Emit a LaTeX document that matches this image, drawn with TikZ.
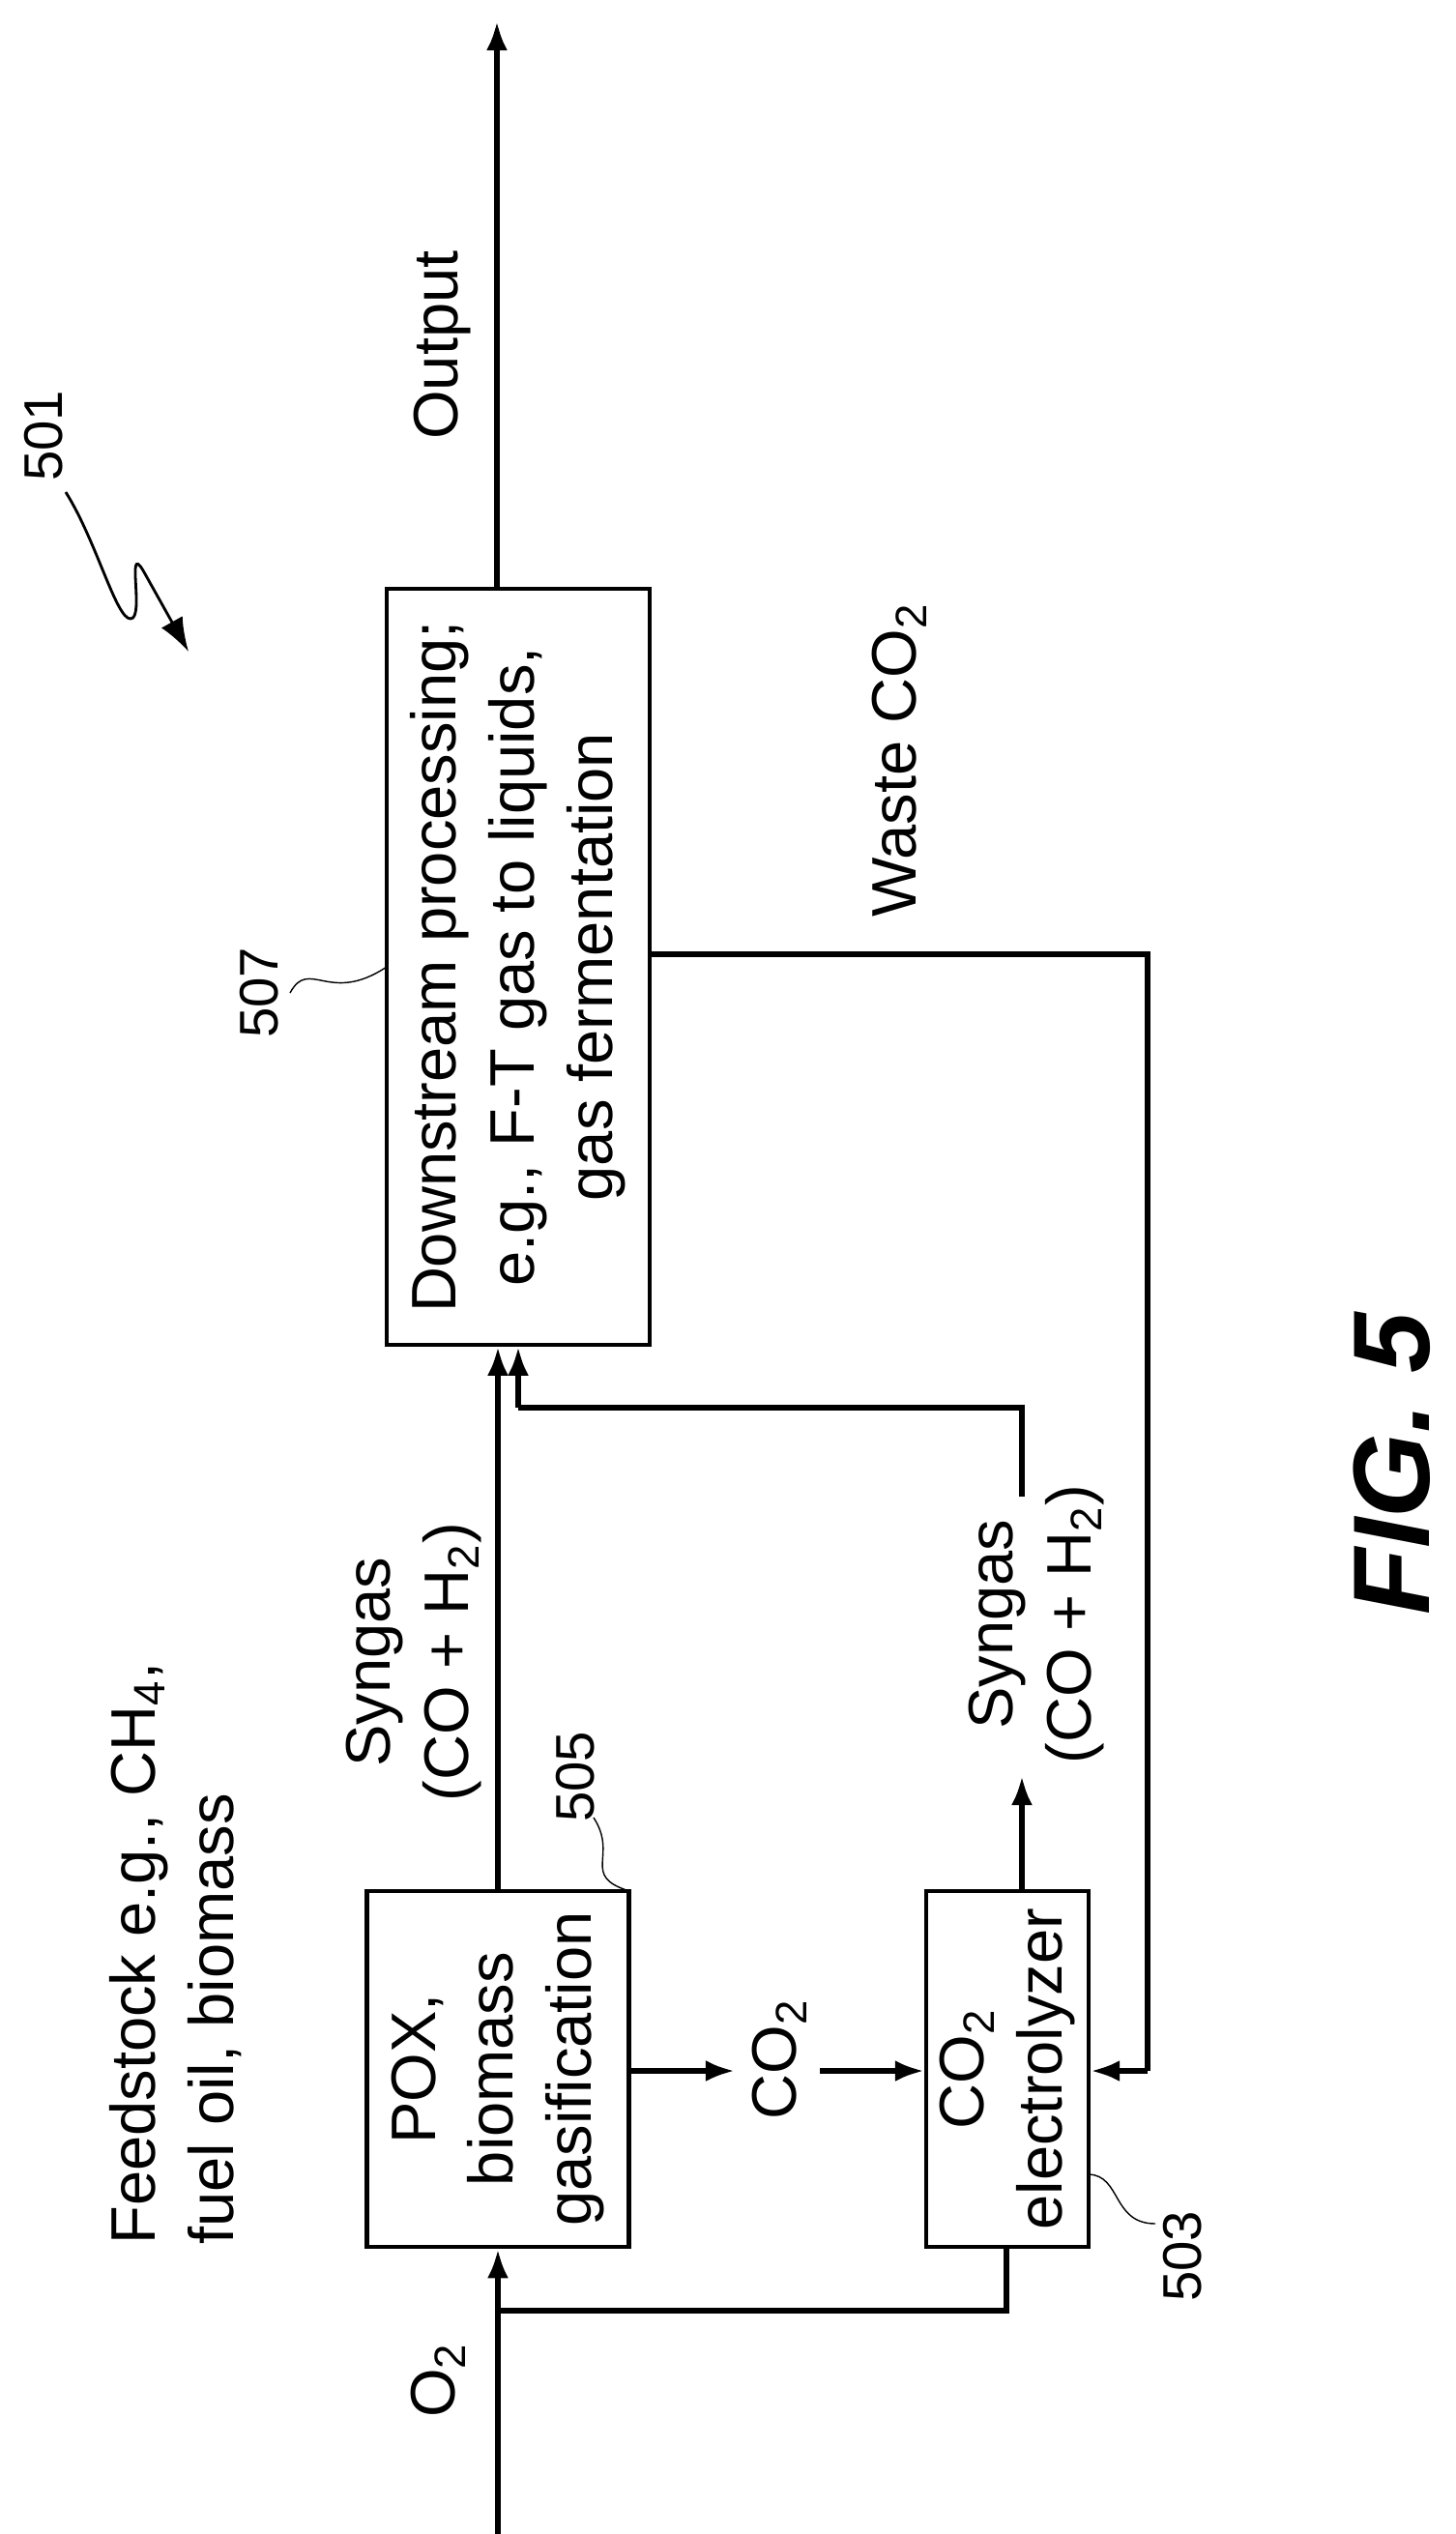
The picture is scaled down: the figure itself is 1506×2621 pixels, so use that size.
\documentclass[tikz,border=0pt]{standalone}
\usepackage{fontspec}
\setmainfont{Liberation Sans}
\usetikzlibrary{calc,arrows.meta}
\tikzstyle{block} = [draw, line width=1.2pt, rectangle, rotate=90, align=center,
    inner sep=2pt, font=\fontsize{18.5}{23}\selectfont]
\tikzstyle{lbl} = [rotate=90, align=center, font=\fontsize{18.5}{23}\selectfont]
\tikzstyle{ref} = [rotate=90, font=\fontsize{16}{19}\selectfont]
\tikzstyle{flow} = [line width=1.6pt]

\begin{document}
\begin{tikzpicture}[x=0.01cm, y=-0.01cm, >={Latex[length=0.3cm,width=0.22cm]}]
    \useasboundingbox (0,0) rectangle (1506,2621);
    % We start by placing the blocks
    \node [block, minimum width=7.81cm, minimum height=2.72cm] (downstream) at (536,1000)
        {Downstream processing;\\ e.g., F-T gas to liquids,\\ gas fermentation};
    \node [block, minimum width=3.68cm, minimum height=2.71cm] (pox) at (515,2140)
        {POX,\\ biomass\\ gasification};
    \node [block, minimum width=3.68cm, minimum height=1.68cm] (electrolyzer) at (1042,2140)
        {CO\textsubscript{2}\\ electrolyzer};

    % free ends and corners
    \coordinate (out) at (514,22);
    \coordinate (o2in) at (515,2621);
    \coordinate (o2join) at (515,2390);
    \coordinate (elbot) at (1041,2390);
    \coordinate (wastecorner) at (1187,987);
    \coordinate (wasteturn) at (1187,2142);
    \coordinate (syn2start) at (1057,1548);
    \coordinate (syn2turn) at (1057,1456);
    \coordinate (syn2corner) at (536,1456);
    \coordinate (syn2tip) at (1057,1837);
    \coordinate (co2tip) at (760,2142);
    \coordinate (co2start) at (848,2142);

    % labels
    \node [lbl] (outlbl) at (458,357) {Output};
    \node [lbl] (wastelbl) at (930,786) {Waste CO\textsubscript{2}};
    \node [lbl] (syn1lbl) at (428,1719) {Syngas\\ (CO + H\textsubscript{2})};
    \node [lbl] (syn2lbl) at (1072,1680) {Syngas\\ (CO + H\textsubscript{2})};
    \node [lbl] (co2lbl) at (806,2130) {CO\textsubscript{2}};
    \node [lbl] (o2lbl) at (453,2462) {O\textsubscript{2}};
    \node [lbl, align=left, anchor=south west] (feed) at (262,2334)
        {Feedstock e.g., CH\textsubscript{4},\\ fuel oil, biomass};
    \node [rotate=90, font=\fontsize{32}{38}\selectfont\bfseries\itshape] (fig) at (1440,1514) {FIG. 5};

    % reference numerals
    \node [ref] (n501) at (45,451) {501};
    \node [ref] (n507) at (268,1027) {507};
    \node [ref] (n505) at (595,1838) {505};
    \node [ref] (n503) at (1223,2334) {503};
    \draw [thick, -{Latex[length=0.35cm,width=0.25cm]}] (68,509) .. controls (100,560) and (120,640) .. (135,640)
        .. controls (150,640) and (130,560) .. (148,590) -- (195,674);
    \draw (300,1027) .. controls (320,990) and (340,1040) .. (400,1000);
    \draw (614,1880) .. controls (640,1920) and (600,1940) .. (651,1956);
    \draw (1126,2249) .. controls (1160,2250) and (1150,2300) .. (1195,2300);

    % connectors
    \draw [flow,->] (downstream.east -| out) -- (out);
    \draw [flow,->] (pox.east) -- (pox.east |- downstream.west);
    \draw [flow] (syn2start) -- (syn2turn) -- (syn2corner);
    \draw [flow,->] (syn2corner) -- (syn2corner |- downstream.west);
    \draw [flow,->] (electrolyzer.east -| syn2tip) -- (syn2tip);
    \draw [flow] (downstream.south |- wastecorner) -- (wastecorner) -- (wasteturn);
    \draw [flow,->] (wasteturn) -- (electrolyzer.south |- wasteturn);
    \draw [flow,->] (pox.south |- co2tip) -- (co2tip);
    \draw [flow,->] (co2start) -- (electrolyzer.north |- co2start);
    \draw [flow,->] (o2in) -- (pox.west);
    \draw [flow] (electrolyzer.west -| elbot) -- (elbot) -- (o2join);
\end{tikzpicture}
\end{document}
